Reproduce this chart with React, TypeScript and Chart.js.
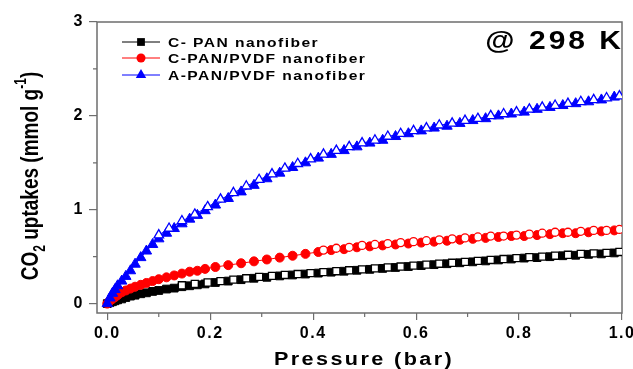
import React, { useEffect, useRef } from "react";
import { Chart, registerables } from "chart.js";

Chart.register(...registerables);

// Pressure (bar) for adsorption branch
const adsP = [0, 0.005, 0.01, 0.015, 0.02, 0.028, 0.036, 0.045, 0.054, 0.065, 0.076, 0.088, 0.1, 0.115, 0.13, 0.145, 0.16, 0.175, 0.19, 0.21, 0.235, 0.26, 0.285, 0.31, 0.335, 0.36, 0.385, 0.41, 0.435, 0.46, 0.485, 0.51, 0.535, 0.56, 0.585, 0.61, 0.635, 0.66, 0.685, 0.71, 0.735, 0.76, 0.785, 0.81, 0.835, 0.86, 0.885, 0.91, 0.935, 0.96, 0.985];
// Pressure (bar) for desorption branch
const desP = [0.995, 0.97, 0.945, 0.92, 0.895, 0.87, 0.845, 0.82, 0.795, 0.77, 0.745, 0.72, 0.695, 0.67, 0.645, 0.62, 0.595, 0.57, 0.545, 0.52, 0.495, 0.47, 0.445, 0.42, 0.395, 0.37, 0.345, 0.32, 0.295, 0.27, 0.245, 0.22, 0.195, 0.17, 0.145, 0.12, 0.1];

const cpanAds = [0, 0.01, 0.02, 0.03, 0.04, 0.05, 0.065, 0.08, 0.09, 0.105, 0.115, 0.13, 0.14, 0.155, 0.165, 0.18, 0.19, 0.2, 0.21, 0.225, 0.24, 0.255, 0.27, 0.28, 0.295, 0.305, 0.315, 0.325, 0.335, 0.345, 0.355, 0.365, 0.375, 0.385, 0.395, 0.405, 0.415, 0.425, 0.435, 0.445, 0.455, 0.465, 0.475, 0.485, 0.49, 0.5, 0.51, 0.515, 0.525, 0.53, 0.54];
const cpanDes = [0.55, 0.54, 0.535, 0.53, 0.52, 0.51, 0.5, 0.495, 0.485, 0.475, 0.465, 0.455, 0.445, 0.435, 0.425, 0.415, 0.405, 0.395, 0.385, 0.375, 0.365, 0.355, 0.345, 0.335, 0.325, 0.315, 0.305, 0.295, 0.285, 0.27, 0.255, 0.24, 0.225, 0.21, 0.195];

const cpvdfAds = [0, 0.03, 0.05, 0.07, 0.09, 0.12, 0.14, 0.16, 0.18, 0.2, 0.22, 0.24, 0.26, 0.28, 0.3, 0.32, 0.34, 0.35, 0.37, 0.39, 0.41, 0.43, 0.45, 0.47, 0.49, 0.51, 0.53, 0.55, 0.57, 0.58, 0.6, 0.61, 0.62, 0.63, 0.64, 0.65, 0.66, 0.67, 0.68, 0.69, 0.7, 0.71, 0.72, 0.72, 0.73, 0.74, 0.75, 0.75, 0.76, 0.77, 0.78];
const cpvdfDes = [0.79, 0.78, 0.78, 0.77, 0.76, 0.76, 0.75, 0.74, 0.73, 0.72, 0.72, 0.71, 0.7, 0.69, 0.68, 0.67, 0.66, 0.65, 0.64, 0.63, 0.62, 0.6, 0.59, 0.57];

const apvdfAds = [0, 0.06, 0.11, 0.15, 0.19, 0.24, 0.29, 0.35, 0.42, 0.49, 0.56, 0.63, 0.69, 0.75, 0.8, 0.85, 0.9, 0.94, 0.99, 1.05, 1.12, 1.19, 1.26, 1.33, 1.39, 1.45, 1.5, 1.55, 1.59, 1.63, 1.67, 1.71, 1.74, 1.78, 1.81, 1.84, 1.87, 1.89, 1.92, 1.95, 1.97, 2.0, 2.02, 2.04, 2.07, 2.09, 2.11, 2.13, 2.15, 2.17, 2.2];
const apvdfDes = [2.21, 2.19, 2.17, 2.15, 2.13, 2.11, 2.09, 2.07, 2.04, 2.02, 2.0, 1.97, 1.95, 1.92, 1.9, 1.87, 1.84, 1.81, 1.78, 1.74, 1.71, 1.67, 1.63, 1.59, 1.54, 1.49, 1.44, 1.38, 1.32, 1.25, 1.18, 1.11, 1.03, 0.95, 0.88, 0.8, 0.73];

const seriesNames = ["C- PAN nanofiber", "C-PAN/PVDF nanofiber", "A-PAN/PVDF nanofiber"];
const xTicks = [0, 0.2, 0.4, 0.6, 0.8, 1.0];
const xMinorTicks = [0.1, 0.3, 0.5, 0.7, 0.9];
const yTicks = [0, 1, 2, 3];
const yMinorTicks = [0.5, 1.5, 2.5];
const tempLabel = "@ 298 K";

const FONT = "'Liberation Sans', Arial, sans-serif";
const AXIS = "#6e6e6e";
const COLORS = ["#000000", "#ff0000", "#0000ff"];
const SHAPES = ["rect", "circle", "triangle"];
const RADII = [5.5, 4.5, 6];

const zip = (xs: number[], ys: number[]) => ys.map((y, i) => ({ x: xs[i], y }));

function drawMarker(ctx: CanvasRenderingContext2D, shape: string, x: number, y: number, r: number) {
  ctx.beginPath();
  if (shape === "rect") {
    const s = r * Math.SQRT1_2;
    ctx.rect(x - s, y - s, 2 * s, 2 * s);
  } else if (shape === "circle") {
    ctx.arc(x, y, r, 0, Math.PI * 2);
  } else {
    let a = 0;
    ctx.moveTo(x + Math.sin(a) * r, y - Math.cos(a) * r);
    a += (2 * Math.PI) / 3;
    ctx.lineTo(x + Math.sin(a) * r, y - Math.cos(a) * r);
    a += (2 * Math.PI) / 3;
    ctx.lineTo(x + Math.sin(a) * r, y - Math.cos(a) * r);
    ctx.closePath();
  }
  ctx.fill();
}

const decorPlugin = {
  id: "decor",
  beforeDraw(chart: any) {
    chart.ctx.letterSpacing = "1.5px";
  },
  beforeDatasetsDraw(chart: any) {
    const ctx = chart.ctx;
    ctx.letterSpacing = "0px";
    const { left, right, top, bottom } = chart.chartArea;
    const xs = chart.scales.x;
    const ys = chart.scales.y;
    ctx.save();
    ctx.strokeStyle = AXIS;
    ctx.lineWidth = 1.5;
    ctx.strokeRect(left, top, right - left, bottom - top);
    ctx.lineWidth = 1.2;
    ctx.beginPath();
    xMinorTicks.forEach((v) => {
      const px = xs.getPixelForValue(v);
      ctx.moveTo(px, bottom);
      ctx.lineTo(px, bottom + 4);
    });
    yMinorTicks.forEach((v) => {
      const py = ys.getPixelForValue(v);
      ctx.moveTo(left, py);
      ctx.lineTo(left - 4, py);
    });
    ctx.stroke();
    ctx.restore();
  },
  afterDraw(chart: any) {
    const ctx: CanvasRenderingContext2D = chart.ctx;
    const { left, right } = chart.chartArea;
    ctx.save();
    ctx.fillStyle = "#000";
    // X axis title
    ctx.save();
    ctx.font = `bold 18px ${FONT}`;
    (ctx as any).letterSpacing = "2px";
    ctx.textAlign = "center";
    ctx.textBaseline = "alphabetic";
    ctx.translate(364, 365);
    ctx.scale(1.2, 1);
    ctx.fillText("Pressure (bar)", 0, 0);
    ctx.restore();

    // Y axis title with sub/superscript
    ctx.save();
    ctx.translate(38, 176);
    ctx.rotate(-Math.PI / 2);
    ctx.scale(1, 1.3);
    const big = `bold 19px ${FONT}`;
    const small = `bold 12px ${FONT}`;
    const parts: [string, string, number][] = [
      ["CO", big, 0],
      ["2", small, 5],
      [" uptakes (mmol g", big, 0],
      ["-1", small, -9],
      [")", big, 0],
    ];
    let total = 0;
    parts.forEach(([t, f]) => {
      ctx.font = f;
      total += ctx.measureText(t).width;
    });
    let cx = -total / 2;
    ctx.textAlign = "left";
    ctx.textBaseline = "alphabetic";
    parts.forEach(([t, f, dy]) => {
      ctx.font = f;
      ctx.fillText(t, cx, dy);
      cx += ctx.measureText(t).width;
    });
    ctx.restore();

    // Temperature label
    ctx.save();
    ctx.font = `bold 25px ${FONT}`;
    (ctx as any).letterSpacing = "2.5px";
    ctx.textAlign = "right";
    ctx.textBaseline = "middle";
    ctx.translate(right + 2, 42);
    ctx.scale(1.2, 1);
    ctx.fillText(tempLabel, 0, 0);
    ctx.restore();

    // Legend
    const rowsY = [42, 58, 75];
    seriesNames.forEach((name, i) => {
      const y = rowsY[i];
      ctx.strokeStyle = COLORS[i];
      ctx.lineWidth = 1;
      ctx.beginPath();
      ctx.moveTo(left + 25, y);
      ctx.lineTo(left + 63, y);
      ctx.stroke();
      ctx.fillStyle = COLORS[i];
      drawMarker(ctx, SHAPES[i], left + 44, y, RADII[i]);
      ctx.save();
      ctx.fillStyle = "#000";
      ctx.font = `bold 13px ${FONT}`;
      (ctx as any).letterSpacing = "1.2px";
      ctx.textAlign = "left";
      ctx.textBaseline = "middle";
      ctx.translate(left + 71, y + 1);
      ctx.scale(1.2, 1);
      ctx.fillText(name, 0, 0);
      ctx.restore();
    });
    ctx.restore();
  },
};

export default function App() {
  const ref = useRef<HTMLCanvasElement | null>(null);
  useEffect(() => {
    document.body.style.margin = "0";
    if (!ref.current) return;
    const ads = [cpanAds, cpvdfAds, apvdfAds];
    const des = [cpanDes, cpvdfDes, apvdfDes];
    const datasets: any[] = [];
    for (let i = 0; i < 3; i++) {
      datasets.push({
        label: seriesNames[i] + " (ads)",
        data: zip(adsP, ads[i]),
        borderColor: COLORS[i],
        backgroundColor: COLORS[i],
        pointBackgroundColor: COLORS[i],
        pointBorderColor: COLORS[i],
        pointStyle: SHAPES[i],
        pointRadius: RADII[i],
        pointBorderWidth: 1,
        borderWidth: 1,
        showLine: true,
        tension: 0,
        order: 10 - i * 2,
      });
      datasets.push({
        label: seriesNames[i] + " (des)",
        data: zip(desP, des[i]),
        borderColor: COLORS[i],
        backgroundColor: "#ffffff",
        pointBackgroundColor: "#ffffff",
        pointBorderColor: COLORS[i],
        pointStyle: SHAPES[i],
        pointRadius: RADII[i] - 0.5,
        pointBorderWidth: 1.3,
        borderWidth: 1,
        showLine: true,
        tension: 0,
        order: 9 - i * 2,
      });
    }
    const chart = new Chart(ref.current, {
      type: "scatter",
      data: { datasets },
      options: {
        animation: false,
        responsive: false,
        devicePixelRatio: 1,
        layout: { padding: { left: 0, right: 11, top: 22, bottom: 0 } },
        plugins: { legend: { display: false }, tooltip: { enabled: false } },
        scales: {
          x: {
            type: "linear",
            min: -0.02,
            max: 1.0,
            afterBuildTicks: (s: any) => {
              s.ticks = xTicks.map((v) => ({ value: v }));
            },
            afterFit: (s: any) => {
              s.height = 56;
              s.paddingLeft = 0;
              s.paddingRight = 0;
            },
            ticks: {
              autoSkip: false,
              maxRotation: 0,
              color: "#000",
              padding: 4,
              font: { family: FONT, size: 16, weight: "bold" },
              callback: (v: any) => Number(v).toFixed(1),
            },
            grid: { drawOnChartArea: false, drawTicks: true, tickLength: 7, color: AXIS, lineWidth: 1.2 },
            border: { display: false },
          },
          y: {
            type: "linear",
            min: -0.1,
            max: 3,
            afterBuildTicks: (s: any) => {
              s.ticks = yTicks.map((v) => ({ value: v }));
            },
            afterFit: (s: any) => {
              s.width = 97;
              s.paddingTop = 0;
              s.paddingBottom = 0;
            },
            ticks: {
              autoSkip: false,
              color: "#000",
              padding: 5,
              font: { family: FONT, size: 16, weight: "bold" },
              callback: (v: any) => String(v),
            },
            grid: { drawOnChartArea: false, drawTicks: true, tickLength: 8, color: AXIS, lineWidth: 1.2 },
            border: { display: false },
          },
        },
      },
      plugins: [decorPlugin],
    });
    return () => chart.destroy();
  }, []);
  return (
    <div style={{ position: "absolute", left: 0, top: 0, width: 633, height: 369, background: "#fff" }}>
      <canvas ref={ref} width={633} height={369} style={{ width: 633, height: 369, display: "block" }} />
    </div>
  );
}
